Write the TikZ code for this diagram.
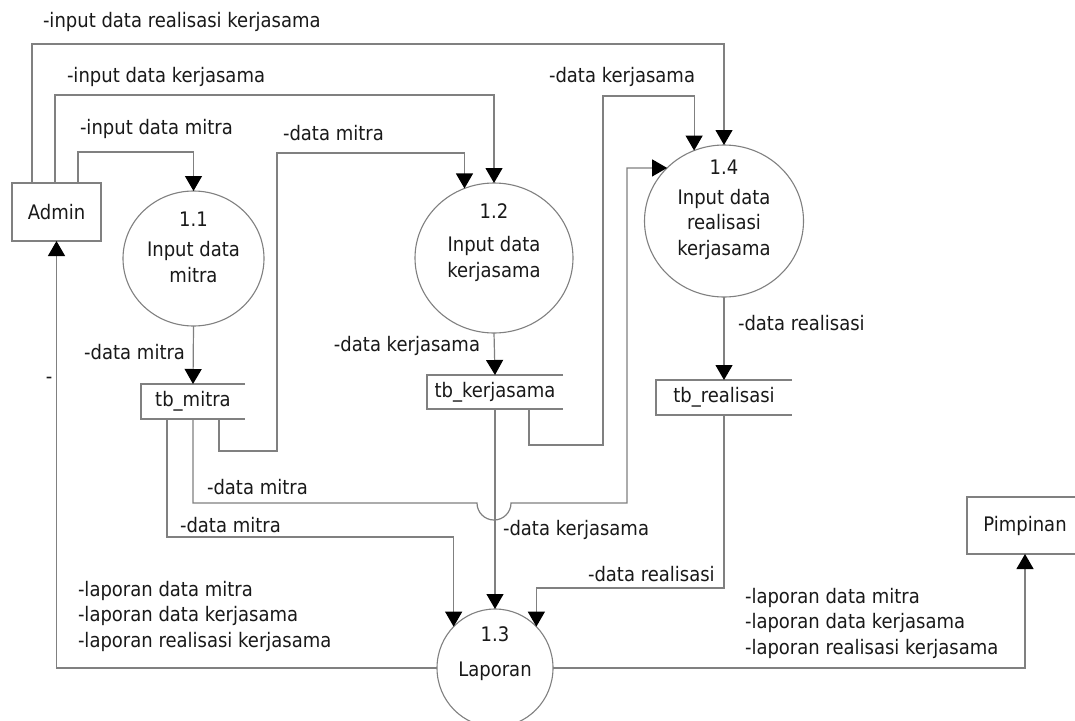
\documentclass[tikz,border=0pt]{standalone}
\usepackage{fontspec}
\setmainfont{DejaVu Sans}[FakeStretch=0.9]
\usetikzlibrary{arrows.meta,shapes.geometric}
\definecolor{ln}{RGB}{128,128,128}
\definecolor{tx}{RGB}{25,25,25}
\begin{document}
\begin{tikzpicture}[x=1pt,y=-1pt,
  every node/.style={font=\fontsize{20}{25.5}\selectfont, text=tx, inner sep=0pt, outer sep=0pt},
  entity/.style={rectangle, draw=ln, line width=1.2pt},
  proc/.style={ellipse, draw=ln, line width=1.1pt},
  store/.style={rectangle},
  ptext/.style={align=center},
  lbl/.style={anchor=west},
  lblr/.style={anchor=east},
  multi/.style={anchor=west, align=left},
  plain/.style={draw=ln, line width=1.2pt},
  flow/.style={draw=ln, line width=1.2pt, -{Triangle[length=15pt,width=17pt,color=black]}}
]
\useasboundingbox (0,0) rectangle (1075,720);
\fill[white] (0,0) rectangle (1075,720);
\clip (0,0) rectangle (1075,720);

% entities
\node[entity, minimum width=89pt, minimum height=58pt] (admin) at (56.5,212) {Admin};
\node[entity, minimum width=116pt, minimum height=57pt] (pim) at (1025,525.5) {Pimpinan};

% processes
\node[proc, minimum width=141pt, minimum height=135pt] (p11) at (193.5,258.5) {};
\node[proc, minimum width=158pt, minimum height=150pt] (p12) at (494,258) {};
\node[proc, minimum width=159pt, minimum height=152pt] (p14) at (724,221) {};
\node[proc, minimum width=116pt, minimum height=118pt] (p13) at (495,668) {};
\node[ptext] (t11) at ([yshift=11.5pt]p11.center) {1.1\\[5pt]Input data\\mitra};
\node[ptext] (t12) at ([yshift=15.5pt]p12.center) {1.2\\[8pt]Input data\\kerjasama};
\node[ptext] (t14) at ([yshift=11pt]p14.center) {1.4\\[4pt]Input data\\realisasi\\kerjasama};
\node[ptext] (t13) at ([yshift=14.5pt]p13.center) {1.3\\[10pt]Laporan};

% data stores
\node[store, minimum width=104pt, minimum height=35pt] (tbm) at (193,401.5) {tb\_mitra};
\node[store, minimum width=136pt, minimum height=34pt] (tbk) at (495,392) {tb\_kerjasama};
\node[store, minimum width=136pt, minimum height=35pt] (tbr) at (724,397.5) {tb\_realisasi};
\draw[plain] (tbm.north east) -- (tbm.north west) -- (tbm.south west) -- (tbm.south east);
\draw[plain] (tbk.north east) -- (tbk.north west) -- (tbk.south west) -- (tbk.south east);
\draw[plain] (tbr.north east) -- (tbr.north west) -- (tbr.south west) -- (tbr.south east);

% flows from Admin
\draw[flow] ([xshift=-24.5pt]admin.north) -- ++(0,-139) -| (p14.north);
\draw[flow] ([xshift=-1.5pt]admin.north) -- ++(0,-88) -| (p12.north);
\draw[flow] ([xshift=21.5pt]admin.north) -- ++(0,-31) -| (p11.north);

% process to stores
\draw[flow] (p11.south) -- (tbm.north);
\draw[flow] (p12.south) -- (tbk.north);
\draw[flow] (p14.south) -- (tbr.north);

% stores to processes
\draw[flow] ([xshift=26pt]tbm.south) -- ++(0,32) -- ++(58,0) -- ++(0,-298) -| (p12.113);
\draw[flow] ([xshift=34pt]tbk.south) -- ++(0,36) -- ++(74,0) -- ++(0,-349) -| (p14.113);
\draw[flow] (tbm.south) -- ++(0,84) -- ++(284,0) arc[start angle=180,end angle=360,radius=17pt] -- ++(116,0) |- (p14.137);
\draw[flow] ([xshift=-26pt]tbm.south) -- ++(0,118) -| (p13.135);
\draw[flow] (tbk.south) -- (p13.north);
\draw[flow] (tbr.south) -- ++(0,173) -| (p13.45);

% reports
\draw[flow] (p13.west) -| (admin.south);
\draw[flow] (p13.east) -| (pim.south);

% labels
\node[lbl] (l1) at (43,22) {-input data realisasi kerjasama};
\node[lbl] (l2) at (67,77) {-input data kerjasama};
\node[lbl] (l3) at (80,129) {-input data mitra};
\node[lbl] (l4) at (283,133) {-data mitra};
\node[lbl] (l5) at (549,77) {-data kerjasama};
\node[lblr] (l6) at (185,352) {-data mitra};
\node[lblr] (l7) at (480,346) {-data kerjasama};
\node[lbl] (l8) at (738,323) {-data realisasi};
\node (l9) at (49,380) {-};
\node[lbl] (l10) at (207,487) {-data mitra};
\node[lbl] (l11) at (180,525) {-data mitra};
\node[lbl] (l12) at (503,530) {-data kerjasama};
\node[lbl] (l13) at (588,574) {-data realisasi};
\node[multi] (l14) at (78,616) {-laporan data mitra\\-laporan data kerjasama\\-laporan realisasi kerjasama};
\node[multi] (l15) at (745,623) {-laporan data mitra\\-laporan data kerjasama\\-laporan realisasi kerjasama};
\end{tikzpicture}
\end{document}
